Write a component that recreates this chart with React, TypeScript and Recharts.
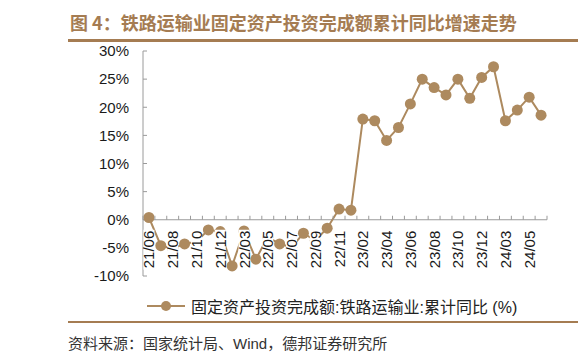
import { LineChart, Line, XAxis, YAxis, ReferenceLine } from "recharts";

const MONTHS = [
  "21/06", "21/07", "21/08", "21/09", "21/10", "21/11", "21/12",
  "22/02", "22/03", "22/04", "22/05", "22/06", "22/07", "22/08", "22/09", "22/10", "22/11", "22/12",
  "23/02", "23/03", "23/04", "23/05", "23/06", "23/07", "23/08", "23/09", "23/10", "23/11", "23/12",
  "24/02", "24/03", "24/04", "24/05", "24/06",
];

// 固定资产投资完成额:铁路运输业:累计同比 (%)
const RAIL_YOY = [
  0.4, -4.6, -5.1, -4.3, -3.9, -1.8, -2.1,
  -8.2, -2.0, -7.0, -3.1, -4.3, -4.9, -2.4, -3.7, -1.5, 1.9, 1.7,
  17.9, 17.6, 14.1, 16.4, 20.6, 25.0, 23.5, 22.2, 25.0, 21.6, 25.3,
  27.2, 17.6, 19.5, 21.8, 18.6,
];

const Y_TICKS = [-10, -5, 0, 5, 10, 15, 20, 25, 30];

const data = MONTHS.map((m, i) => ({ month: m, value: RAIL_YOY[i] }));

const BROWN = "#a57c52";
const SERIES = "#ad8a5f";
const AXIS = "#9a9a9a";
const FONT = "'Liberation Sans', Arial, 'Noto Sans CJK SC', sans-serif";

const CHART_W = 582;
const CHART_H = 290;
const PLOT_LEFT = 143;
const PLOT_RIGHT = 547;
const PLOT_TOP = 51;
const PLOT_BOTTOM = 276;
const Y_MIN = -10;
const Y_MAX = 30;
const ZERO_Y = PLOT_TOP + ((PLOT_BOTTOM - PLOT_TOP) * Y_MAX) / (Y_MAX - Y_MIN);
const BAND = (PLOT_RIGHT - PLOT_LEFT) / MONTHS.length;

// x labels hang under the 0% line, ticks sit on band edges
function MonthTick(props: any) {
  const { x, index, payload } = props;
  const left = x - BAND / 2;
  return (
    <g>
      <line x1={left} x2={left} y1={ZERO_Y} y2={ZERO_Y - 4} stroke={AXIS} />
      {index === MONTHS.length - 1 && (
        <line x1={x + BAND / 2} x2={x + BAND / 2} y1={ZERO_Y} y2={ZERO_Y - 4} stroke={AXIS} />
      )}
      {index % 2 === 0 && (
        <g transform={`translate(${x},${ZERO_Y + 11}) rotate(-90)`}>
          <rect x={-39} y={-5.5} width={40} height={11} fill="#fff" />
          <text
            x={0}
            y={0}
            textAnchor="end"
            dominantBaseline="central"
            fontSize={15}
            fontFamily={FONT}
            fill="#1a1a1a"
          >
            {payload.value}
          </text>
        </g>
      )}
    </g>
  );
}

export default function App() {
  return (
    <div
      style={{
        position: "absolute",
        left: 0,
        top: 0,
        width: 582,
        height: 360,
        background: "#fff",
        fontFamily: FONT,
      }}
    >
      <div
        style={{
          position: "absolute",
          left: 70,
          top: 9,
          fontSize: 18,
          fontWeight: 700,
          color: BROWN,
          fontFamily: "'Noto Sans CJK SC', sans-serif",
          whiteSpace: "nowrap",
          lineHeight: "26px",
        }}
      >
        图 4：铁路运输业固定资产投资完成额累计同比增速走势
      </div>
      <div style={{ position: "absolute", left: 68, top: 39, width: 510, height: 2.5, background: BROWN }} />

      <div style={{ position: "absolute", left: 0, top: 0 }}>
        <LineChart
          width={CHART_W}
          height={CHART_H}
          data={data}
          margin={{ top: PLOT_TOP, right: CHART_W - PLOT_RIGHT, bottom: 0, left: 0 }}
        >
          <ReferenceLine y={0} stroke={AXIS} strokeWidth={1} />
          <Line
            type="linear"
            dataKey="value"
            stroke={SERIES}
            strokeWidth={2}
            dot={{ r: 5.5, fill: SERIES, stroke: "none" }}
            activeDot={false}
            isAnimationActive={false}
          />
          <YAxis
            width={PLOT_LEFT}
            domain={[Y_MIN, Y_MAX]}
            ticks={Y_TICKS}
            interval={0}
            tickFormatter={(v: number) => `${v}%`}
            tick={{ fontSize: 15, fill: "#1a1a1a", fontFamily: FONT }}
            axisLine={{ stroke: AXIS }}
            tickLine={{ stroke: AXIS }}
            tickSize={-4}
            tickMargin={18}
          />
          <XAxis
            dataKey="month"
            interval={0}
            padding={{ left: BAND / 2, right: BAND / 2 }}
            height={CHART_H - PLOT_BOTTOM}
            axisLine={false}
            tickLine={false}
            tick={<MonthTick />}
          />
        </LineChart>
      </div>

      {/* legend */}
      <div
        style={{
          position: "absolute",
          left: 147,
          top: 294,
          display: "flex",
          alignItems: "center",
          fontSize: 16,
          color: "#222",
          whiteSpace: "nowrap",
        }}
      >
        <svg width={38} height={12} style={{ marginRight: 6 }}>
          <line x1={0} x2={38} y1={6} y2={6} stroke={SERIES} strokeWidth={2} />
          <circle cx={19} cy={6} r={5} fill={SERIES} />
        </svg>
        <span>固定资产投资完成额:铁路运输业:累计同比 (%)</span>
      </div>
      <div style={{ position: "absolute", left: 68, top: 321, width: 510, height: 2, background: BROWN }} />

      <div
        style={{
          position: "absolute",
          left: 68,
          top: 332,
          fontSize: 15,
          color: "#333",
          whiteSpace: "nowrap",
        }}
      >
        资料来源：国家统计局、Wind，德邦证券研究所
      </div>
    </div>
  );
}
